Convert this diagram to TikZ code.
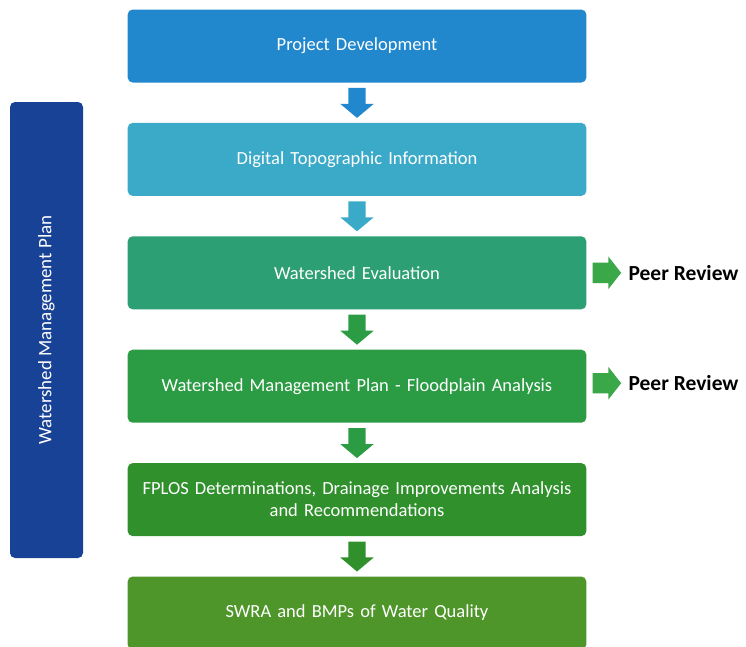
\documentclass[tikz,border=0pt]{standalone}
\usepackage{fontspec}
\setmainfont{Carlito}
\usetikzlibrary{positioning,shapes.arrows,calc}

\definecolor{stageA}{RGB}{33,136,206}
\definecolor{stageB}{RGB}{58,170,200}
\definecolor{stageC}{RGB}{44,160,116}
\definecolor{stageD}{RGB}{44,156,68}
\definecolor{stageE}{RGB}{48,145,44}
\definecolor{stageF}{RGB}{78,150,42}
\definecolor{reviewgreen}{RGB}{58,168,72}
\definecolor{planblue}{RGB}{24,66,150}

\tikzset{
  stage/.style={rectangle, rounded corners=5pt, minimum width=456pt,
    minimum height=73pt, text width=452pt, align=center, text=white,
    font=\fontsize{18.5}{22}\selectfont},
  downarrow/.style={single arrow, shape border rotate=270, inner sep=8.5pt,
    minimum height=30pt, single arrow head extend=8pt,
    single arrow tip angle=100, anchor=tail},
  sidearrow/.style={single arrow, inner sep=10pt, fill=reviewgreen,
    minimum height=26pt, single arrow head extend=6pt,
    single arrow tip angle=104, anchor=tail},
  review/.style={font=\fontsize{21.5}{25}\selectfont\bfseries, inner sep=0pt}
}

\begin{document}
\begin{tikzpicture}[x=1pt, y=-1pt]

    \useasboundingbox (0, 0) rectangle (746, 646);

    % Stages
    \node[stage, fill=stageA] (project) at (357, 46) {Project Development};
    \node[stage, fill=stageB, below=40pt of project] (topo) {Digital Topographic Information};
    \node[stage, fill=stageC, below=40pt of topo] (evaluation) {Watershed Evaluation};
    \node[stage, fill=stageD, below=40pt of evaluation] (floodplain) {Watershed Management Plan - Floodplain Analysis};
    \node[stage, fill=stageE, below=40pt of floodplain] (fplos) {FPLOS Determinations, Drainage Improvements Analysis\\and Recommendations};
    \node[stage, fill=stageF, below=40pt of fplos] (swra) {SWRA and BMPs of Water Quality};

    % Down arrows
    \node[downarrow, fill=stageA] (a1) at ($(project.south) + (0, 5)$) {};
    \node[downarrow, fill=stageB] (a2) at ($(topo.south) + (0, 5)$) {};
    \node[downarrow, fill=stageD] (a3) at ($(evaluation.south) + (0, 5)$) {};
    \node[downarrow, fill=stageD] (a4) at ($(floodplain.south) + (0, 5)$) {};
    \node[downarrow, fill=stageE] (a5) at ($(fplos.south) + (0, 5)$) {};

    % Peer review
    \node[sidearrow] (r1) at ($(evaluation.east) + (6, 0)$) {};
    \node[review, right=7pt of r1] (peer1) {Peer Review};
    \node[sidearrow] (r2) at ($(floodplain.east) + (6, -3)$) {};
    \node[review, right=7pt of r2] (peer2) {Peer Review};

    % Plan bar
    \node[rectangle, rounded corners=5pt, fill=planblue, rotate=90,
          minimum width=456pt, minimum height=73pt, text=white,
          font=\fontsize{19}{22}\selectfont] (plan) at (46.5, 330) {Watershed Management Plan};

\end{tikzpicture}
\end{document}
